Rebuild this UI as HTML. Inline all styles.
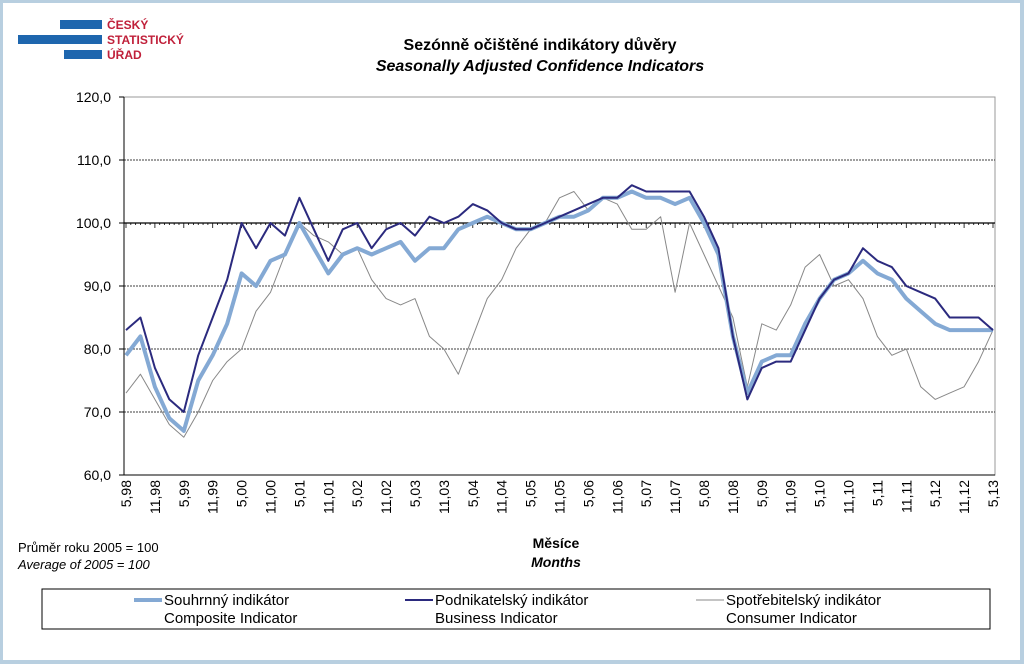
<!DOCTYPE html>
<html><head><meta charset="utf-8"><style>
html,body{margin:0;padding:0;background:#fff}
body{width:1024px;height:665px;overflow:hidden;font-family:"Liberation Sans",sans-serif}
</style></head><body>
<svg id="c" width="1024" height="665" xmlns="http://www.w3.org/2000/svg" font-family="Liberation Sans, sans-serif">
<rect x="1" y="1" width="1021" height="661" fill="#fff" stroke="#b8cfe0" stroke-width="4"/>
<g>
<rect x="60" y="20" width="42" height="9" fill="#1e66ae"/>
<rect x="18" y="35" width="84" height="9" fill="#1e66ae"/>
<rect x="64" y="50" width="38" height="9" fill="#1e66ae"/>
<text x="107" y="29" font-size="12" font-weight="bold" fill="#c0203a">ČESKÝ</text>
<text x="107" y="44" font-size="12" font-weight="bold" fill="#c0203a">STATISTICKÝ</text>
<text x="107" y="59" font-size="12" font-weight="bold" fill="#c0203a">ÚŘAD</text>
</g>
<text x="540" y="50" text-anchor="middle" font-size="16" font-weight="bold">Sezónně očištěné indikátory důvěry</text>
<text x="540" y="71" text-anchor="middle" font-size="16" font-weight="bold" font-style="italic">Seasonally Adjusted Confidence Indicators</text>
<rect x="124" y="97" width="871" height="378" fill="none" stroke="#999"/>
<g id="grid"></g><g id="axes"></g><g id="series"></g>
<text x="18" y="552" font-size="13">Průměr roku 2005 = 100</text>
<text x="18" y="569" font-size="13" font-style="italic">Average of 2005 = 100</text>
<text x="556" y="548" text-anchor="middle" font-size="14" font-weight="bold">Měsíce</text>
<text x="556" y="567" text-anchor="middle" font-size="14" font-weight="bold" font-style="italic">Months</text>
<g>
<rect x="42" y="589" width="948" height="40" fill="#fff" stroke="#000"/>
<line x1="134" y1="600" x2="162" y2="600" stroke="#84a9d4" stroke-width="4"/>
<text x="164" y="605" font-size="15">Souhrnný indikátor</text><text x="164" y="623" font-size="15">Composite Indicator</text>
<line x1="405" y1="600" x2="433" y2="600" stroke="#2b2a7e" stroke-width="2"/>
<text x="435" y="605" font-size="15">Podnikatelský indikátor</text><text x="435" y="623" font-size="15">Business Indicator</text>
<line x1="696" y1="600" x2="724" y2="600" stroke="#888" stroke-width="1"/>
<text x="726" y="605" font-size="15">Spotřebitelský indikátor</text><text x="726" y="623" font-size="15">Consumer Indicator</text>
</g>
</svg>
<script>
const yTicks=[60,70,80,90,100,110,120];
const xLabels=["5.98","11.98","5.99","11.99","5.00","11.00","5.01","11.01","5.02","11.02","5.03","11.03","5.04","11.04","5.05","11.05","5.06","11.06","5.07","11.07","5.08","11.08","5.09","11.09","5.10","11.10","5.11","11.11","5.12","11.12","5.13"];
const composite=[79,82,74,69,67,75,79,84,92,90,94,95,100,96,92,95,96,95,96,97,94,96,96,99,100,101,100,99,99,100,101,101,102,104,104,105,104,104,103,104,100,95,82,73,78,79,79,84,88,91,92,94,92,91,88,86,84,83,83,83,83];
const business=[83,85,77,72,70,79,85,91,100,96,100,98,104,99,94,99,100,96,99,100,98,101,100,101,103,102,100,99,99,100,101,102,103,104,104,106,105,105,105,105,101,96,82,72,77,78,78,83,88,91,92,96,94,93,90,89,88,85,85,85,83];
const consumer=[73,76,72,68,66,70,75,78,80,86,89,95,100,98,97,95,96,91,88,87,88,82,80,76,82,88,91,96,99,100,104,105,102,104,103,99,99,101,89,100,95,90,85,74,84,83,87,93,95,90,91,88,82,79,80,74,72,73,74,78,83];
const NS="http://www.w3.org/2000/svg";
const X0=126,X1=993,Y0=475,Y1=97;
const xs=i=>X0+(X1-X0)*i/60;
const ys=v=>Y0-(v-60)/60*(Y0-Y1);
function mk(tag,at,parent){const e=document.createElementNS(NS,tag);for(const k in at)e.setAttribute(k,at[k]);document.getElementById(parent).appendChild(e);return e;}
yTicks.forEach(v=>{
 const y=ys(v);
 if(v>60&&v<120&&v!==100){const l=mk('line',{x1:124,x2:995,y1:y,y2:y,stroke:'#000','stroke-dasharray':'2,1','stroke-width':0.8},'grid');
 
 }
 const t=mk('line',{x1:119,x2:124,y1:y,y2:y,stroke:'#000'},'axes');
 const tx=mk('text',{x:111,y:y+5,'text-anchor':'end','font-size':14},'axes');tx.textContent=v.toFixed(1).replace('.',',');
 
 
});
const ax=mk('line',{x1:124,x2:995,y1:ys(100),y2:ys(100),stroke:'#000','stroke-width':1.3},'axes');


mk('line',{x1:124,x2:124,y1:Y1,y2:Y0,stroke:'#000'},'axes');
mk('line',{x1:124,x2:995,y1:Y0,y2:Y0,stroke:'#000'},'axes');
for(let m=0;m<=180;m++){const x=X0+(X1-X0)*m/180;mk('line',{x1:x,x2:x,y1:ys(100),y2:ys(100)+(m%6?2:5),stroke:'#000','stroke-width':0.8},'axes');}
xLabels.forEach((s,i)=>{const x=xs(i*2);const t=mk('text',{transform:`translate(${x+5},${Y0+5}) rotate(-90)`,'text-anchor':'end','font-size':14},'axes');t.textContent=s.replace('.',',');
 
 });
function line(arr,col,w,name){const p=mk('polyline',{points:arr.map((v,i)=>xs(i)+','+ys(v)).join(' '),fill:'none',stroke:col,'stroke-width':w,'stroke-linejoin':'round'},'series');
 
 }
line(consumer,'#888',1,'consumer-line');
line(composite,'#84a9d4',4,'composite-line');
line(business,'#2b2a7e',2,'business-line');
</script>
</body></html>
